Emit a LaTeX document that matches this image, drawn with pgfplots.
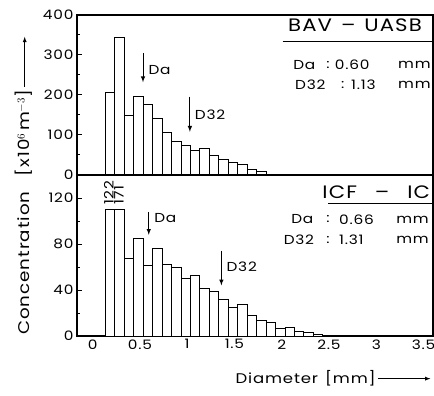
\documentclass[border=0pt]{standalone}
\usepackage{pgfplots}
\pgfplotsset{compat=1.18}
\usepackage{fontspec}
\setmainfont{Poppins}[FakeStretch=1.18, LetterSpace=6]
\pgfplotstableread{
x y
0.185 206
0.285 343
0.385 148
0.485 197
0.585 177
0.685 140
0.785 107
0.885 83
0.985 74
1.085 62
1.185 65
1.285 48
1.385 38
1.485 32
1.585 26
1.685 13
1.785 8
1.885 0.8
1.985 1.5
2.085 1.5
2.185 1
2.285 0.5
}\toptable
\pgfplotstableread{
x y
0.185 110
0.285 110
0.385 67
0.485 85
0.585 61
0.685 76
0.785 62
0.885 60
0.985 50
1.085 53
1.185 41
1.285 39
1.385 32
1.485 25
1.585 27
1.685 17.4
1.785 13.7
1.885 11.6
1.985 6.4
2.085 7.3
2.185 4
2.285 2.9
2.385 1.5
2.485 0.5
}\bottable
\tikzset{
 txt/.style={font=\fontsize{13}{15}\selectfont, inner sep=0pt, anchor=west},
 head/.style={font=\fontsize{18}{20}\selectfont, inner sep=0pt},
}
\begin{document}
\begin{tikzpicture}
\path[use as bounding box] (0,0) rectangle (434pt,-396pt);
\pgfplotsset{
 common/.style={
  scale only axis, width=356pt,
  xmin=-0.165, xmax=3.6,
  axis line style={line width=1.6pt},
  ybar, bar width=0.1, bar shift=0pt,
  tick align=inside,
  ytick pos=left, xtick pos=bottom,
  major tick length=5pt, minor tick length=3pt,
  every tick/.style={line width=1pt, black},
  ticklabel style={font=\fontsize{13}{15}\selectfont},
  /pgf/number format/assume math mode=true,
  xtick={0,0.5,1,1.5,2,2.5,3,3.5},
  major x tick style={draw=none},
  clip=false,
 },
 barstyle/.style={draw=black, fill=white, line width=1pt},
}
% top panel
\begin{axis}[common, at={(77pt,-15pt)}, anchor=north west, height=160pt,
  ymin=0, ymax=400, ytick={0,100,200,300,400}, minor y tick num=1,
  xticklabels={}]
\addplot[barstyle] table[x=x,y=y]{\toptable};
\draw[-latex, line width=1pt] (axis cs:0.533,304) -- (axis cs:0.533,232);
\node[txt] at (axis cs:0.59,262) {Da};
\draw[-latex, line width=1pt] (axis cs:1.029,196) -- (axis cs:1.029,108);
\node[txt] at (axis cs:1.08,150) {D32};
\node[head] at (axis cs:2.775,375) {BAV\enspace–\enspace UASB};
\draw[line width=1pt] (axis cs:2.01,333) -- (axis cs:3.6,333);
\node[txt] at (axis cs:2.12,275) {Da};
\node[txt, anchor=center] at (axis cs:2.49,275) {:};
\node[txt] at (axis cs:2.56,275) {0.60};
\node[txt] at (axis cs:3.23,275) {mm};
\node[txt] at (axis cs:2.14,225) {D32};
\node[txt, anchor=center] at (axis cs:2.645,225) {:};
\node[txt] at (axis cs:2.733,225) {1.13};
\node[txt] at (axis cs:3.23,225) {mm};
\end{axis}
% bottom panel
\begin{axis}[common, at={(77pt,-175pt)}, anchor=north west, height=161pt,
  ymin=0, ymax=140, ytick={0,40,80,120}, minor y tick num=1]
\addplot[barstyle] table[x=x,y=y]{\bottable};
\node[txt, rotate=90, inner sep=1pt] at (axis cs:0.172,113) {122};
\node[txt, rotate=90, inner sep=1pt] at (axis cs:0.278,113) {171};
\draw[-latex, line width=1pt] (axis cs:0.594,108) -- (axis cs:0.594,88);
\node[txt] at (axis cs:0.65,103) {Da};
\draw[-latex, line width=1pt] (axis cs:1.362,74) -- (axis cs:1.362,44);
\node[txt] at (axis cs:1.415,60) {D32};
\node[head] at (axis cs:3.0,125.4) {ICF\quad–\quad IC};
\draw[line width=1pt] (axis cs:2.49,115.3) -- (axis cs:3.6,115.3);
\node[txt] at (axis cs:2.10,101.4) {Da};
\node[txt, anchor=center] at (axis cs:2.49,101.4) {:};
\node[txt] at (axis cs:2.605,101.4) {0.66};
\node[txt] at (axis cs:3.21,101.4) {mm};
\node[txt] at (axis cs:2.02,83.4) {D32};
\node[txt, anchor=center] at (axis cs:2.49,83.4) {:};
\node[txt] at (axis cs:2.605,83.4) {1.31};
\node[txt] at (axis cs:3.21,83.4) {mm};
\end{axis}
% axis labels
\node[rotate=90, anchor=west, inner sep=0pt, font=\fontsize{15.5}{17}\selectfont] at (24pt,-335pt)
  {Concentration\quad[x10$^{6}$\,m$^{-3}$]\,\tikz[baseline=-0.6ex]\draw[-latex,line width=0.8pt](0,0)--(50pt,0);};
\node[anchor=east, inner sep=0pt, font=\fontsize{14}{16}\selectfont] at (431pt,-378pt)
  {Diameter\enspace[mm]\,\tikz[baseline=-0.6ex]\draw[-latex,line width=0.8pt](0,0)--(52pt,0);};
\end{tikzpicture}
\end{document}
